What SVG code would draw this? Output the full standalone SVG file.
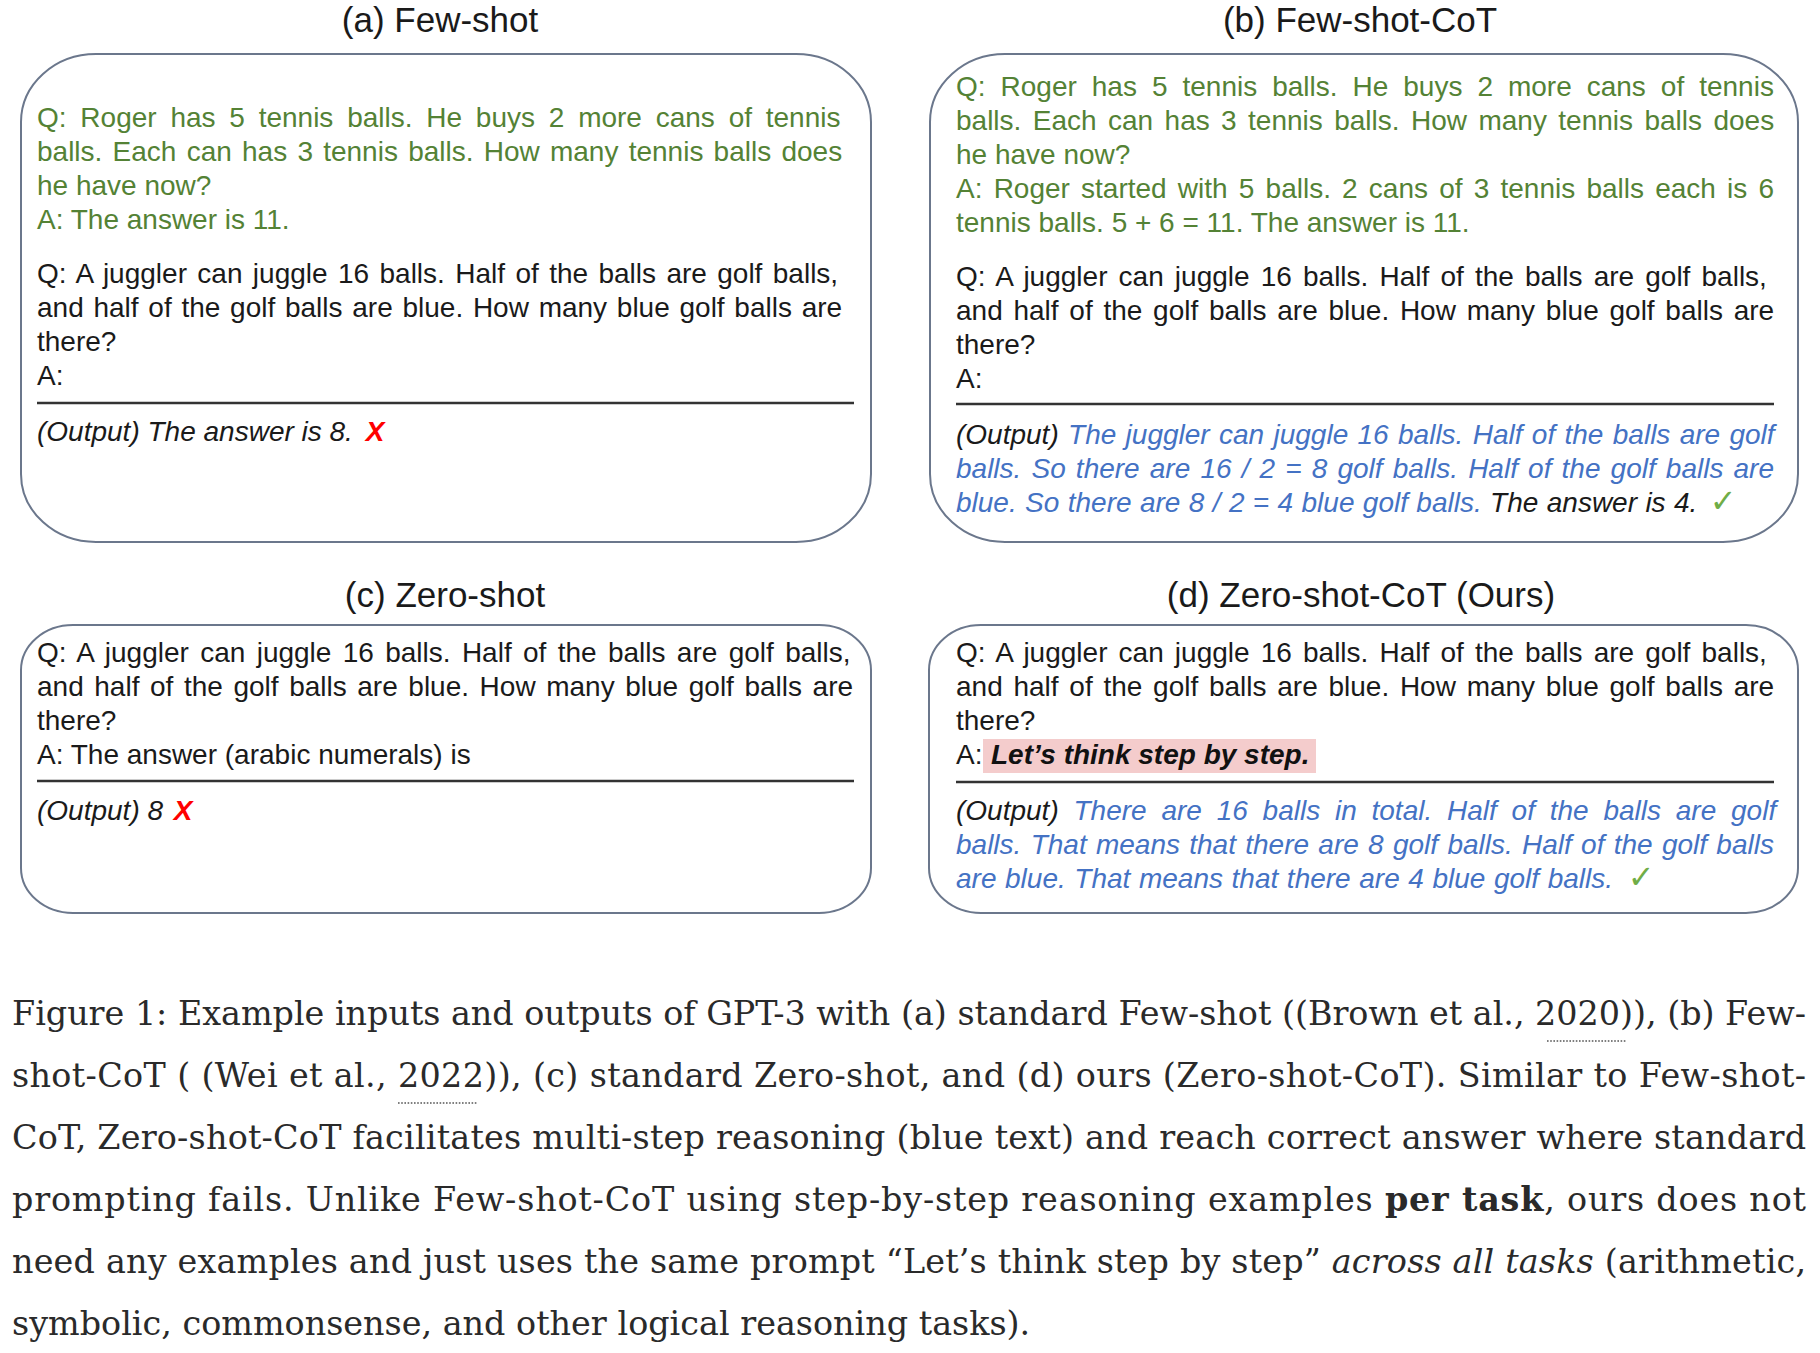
<svg xmlns="http://www.w3.org/2000/svg" width="1820" height="1353" viewBox="0 0 1820 1353">
<style>
.title{font-family:"Liberation Sans",Arial,sans-serif;font-size:35px;fill:#1a1a1a;text-anchor:middle}
.body{font-family:"Liberation Sans",Arial,sans-serif;font-size:28px}
.g{fill:#548235}
.k{fill:#1a1a1a}
.bl{fill:#4472C4}
.it{font-style:italic}
.bi{font-style:italic;font-weight:bold;fill:#111}
.x{fill:#FF0000;font-weight:bold;font-style:italic}
.chk{fill:#70AD47;font-family:"DejaVu Sans",sans-serif;font-style:normal;font-weight:bold;font-size:32px}
.box{fill:none;stroke:#6b778c;stroke-width:2}
.sep{stroke:#333;stroke-width:2.5}
.hl{fill:#F4CCCC}
.cap{font-family:"DejaVu Serif","Liberation Serif",serif;font-size:33.4px;fill:#2a2a2a}
.dot{stroke:#555;stroke-width:1.6;stroke-dasharray:1.6 1.6}
</style>
<rect width="1820" height="1353" fill="#ffffff"/>

<g id="panel-a">
<text class="title" x="440" y="32">(a) Few-shot</text>
<rect class="box" x="21" y="54" width="850" height="488" rx="75" ry="68"/>
<text class="body g" x="37" y="127" style="word-spacing:6.0px">Q: Roger has 5 tennis balls. He buys 2 more cans of tennis</text>
<text class="body g" x="37" y="161" style="word-spacing:2.45px">balls. Each can has 3 tennis balls. How many tennis balls does</text>
<text class="body g" x="37" y="195">he have now?</text>
<text class="body g" x="37" y="229">A: The answer is 11.</text>
<text class="body k" x="37" y="283" style="word-spacing:2.6px">Q: A juggler can juggle 16 balls. Half of the balls are golf balls,</text>
<text class="body k" x="37" y="317" style="word-spacing:1.95px">and half of the golf balls are blue. How many blue golf balls are</text>
<text class="body k" x="37" y="351">there?</text>
<text class="body k" x="37" y="385">A:</text>
<line class="sep" x1="37" y1="403" x2="854" y2="403"/>
<text class="body k it" x="37" y="441">(Output) The answer is 8. <tspan class="x" dx="5">X</tspan></text>
</g>

<g id="panel-b">
<text class="title" x="1360" y="32">(b) Few-shot-CoT</text>
<rect class="box" x="930" y="54" width="868" height="488" rx="75" ry="68"/>
<text class="body g" x="956" y="96" style="word-spacing:7.2px">Q: Roger has 5 tennis balls. He buys 2 more cans of tennis</text>
<text class="body g" x="956" y="130" style="word-spacing:3.63px">balls. Each can has 3 tennis balls. How many tennis balls does</text>
<text class="body g" x="956" y="164">he have now?</text>
<text class="body g" x="956" y="198" style="word-spacing:3.4px">A: Roger started with 5 balls. 2 cans of 3 tennis balls each is 6</text>
<text class="body g" x="956" y="232">tennis balls. 5 + 6 = 11. The answer is 11.</text>
<text class="body k" x="956" y="286" style="word-spacing:3.35px">Q: A juggler can juggle 16 balls. Half of the balls are golf balls,</text>
<text class="body k" x="956" y="320" style="word-spacing:2.95px">and half of the golf balls are blue. How many blue golf balls are</text>
<text class="body k" x="956" y="354">there?</text>
<text class="body k" x="956" y="388">A:</text>
<line class="sep" x1="956" y1="404" x2="1774" y2="404"/>
<text class="body k it" x="956" y="444" style="word-spacing:1.55px">(Output) <tspan class="bl">The juggler can juggle 16 balls. Half of the balls are golf</tspan></text>
<text class="body bl it" x="956" y="478" style="word-spacing:2.34px">balls. So there are 16 / 2 = 8 golf balls. Half of the golf balls are</text>
<text class="body bl it" x="956" y="512" style="word-spacing:0.6px">blue. So there are 8 / 2 = 4 blue golf balls. <tspan class="k">The answer is 4.</tspan> <tspan class="chk" dx="4">✓</tspan></text>
</g>

<g id="panel-c">
<text class="title" x="445" y="607">(c) Zero-shot</text>
<rect class="box" x="21" y="625" width="850" height="288" rx="52" ry="45"/>
<text class="body k" x="37" y="662" style="word-spacing:3.55px">Q: A juggler can juggle 16 balls. Half of the balls are golf balls,</text>
<text class="body k" x="37" y="696" style="word-spacing:2.79px">and half of the golf balls are blue. How many blue golf balls are</text>
<text class="body k" x="37" y="730">there?</text>
<text class="body k" x="37" y="764">A: The answer (arabic numerals) is</text>
<line class="sep" x1="37" y1="781" x2="854" y2="781"/>
<text class="body k it" x="37" y="820">(Output) 8 <tspan class="x" dx="3">X</tspan></text>
</g>

<g id="panel-d">
<text class="title" x="1361" y="607">(d) Zero-shot-CoT (Ours)</text>
<rect class="box" x="929" y="625" width="869" height="288" rx="52" ry="45"/>
<text class="body k" x="956" y="662" style="word-spacing:3.35px">Q: A juggler can juggle 16 balls. Half of the balls are golf balls,</text>
<text class="body k" x="956" y="696" style="word-spacing:2.95px">and half of the golf balls are blue. How many blue golf balls are</text>
<text class="body k" x="956" y="730">there?</text>
<rect class="hl" x="983" y="739" width="333" height="34"/>
<text class="body k" x="956" y="764">A:<tspan class="bi" x="991">Let’s think step by step.</tspan></text>
<line class="sep" x1="956" y1="782" x2="1774" y2="782"/>
<text class="body k it" x="956" y="820" style="word-spacing:7px">(Output) <tspan class="bl">There are 16 balls in total. Half of the balls are golf</tspan></text>
<text class="body bl it" x="956" y="854" style="word-spacing:1.5px">balls. That means that there are 8 golf balls. Half of the golf balls</text>
<text class="body bl it" x="956" y="888" style="word-spacing:0.8px">are blue. That means that there are 4 blue golf balls. <tspan class="chk" dx="6">✓</tspan></text>
</g>

<g id="caption" class="cap">
<text x="12" y="1025" textLength="1794" lengthAdjust="spacing">Figure 1: Example inputs and outputs of GPT-3 with (a) standard Few-shot ((Brown et al., 2020)), (b) Few-</text>
<text x="12" y="1087" textLength="1794" lengthAdjust="spacing">shot-CoT ( (Wei et al., 2022)), (c) standard Zero-shot, and (d) ours (Zero-shot-CoT). Similar to Few-shot-</text>
<text x="12" y="1149" textLength="1794" lengthAdjust="spacing">CoT, Zero-shot-CoT facilitates multi-step reasoning (blue text) and reach correct answer where standard</text>
<text x="12" y="1211" textLength="1794" lengthAdjust="spacing">prompting fails. Unlike Few-shot-CoT using step-by-step reasoning examples <tspan font-weight="bold">per task</tspan>, ours does not</text>
<text x="12" y="1273" textLength="1794" lengthAdjust="spacing">need any examples and just uses the same prompt “Let’s think step by step” <tspan font-style="italic">across all tasks</tspan> (arithmetic,</text>
<text x="12" y="1335">symbolic, commonsense, and other logical reasoning tasks).</text>
<line class="dot" x1="1547" y1="1041" x2="1626" y2="1041"/>
<line class="dot" x1="398" y1="1103" x2="477" y2="1103"/>
</g>
</svg>
